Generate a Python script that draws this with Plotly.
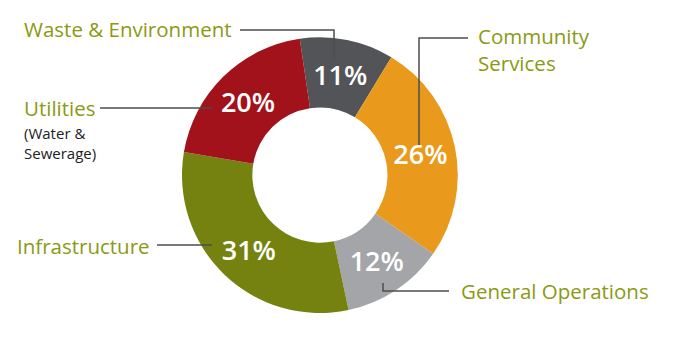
import plotly.graph_objects as go

# Budget share by service area (percent)
categories = ["Waste & Environment", "Community Services", "General Operations",
              "Infrastructure", "Utilities"]
shares = [11, 26, 12, 31, 20]
slice_colors = ["#535457", "#e99a1c", "#a4a5a9", "#75820f", "#a2121a"]

W, H = 700, 341
LABEL_GREEN = "#8a9a12"
LINE_GRAY = "#4d4d4d"


def px(x):
    return x / W


def py(y):
    return 1 - y / H


fig = go.Figure(go.Pie(
    labels=categories,
    values=shares,
    sort=False,
    direction="clockwise",
    rotation=-8.4,
    hole=0.49,
    marker=dict(colors=slice_colors, line=dict(width=0)),
    textinfo="percent",
    texttemplate="%{percent:.0%}",
    textposition="inside",
    insidetextorientation="horizontal",
    textfont=dict(family="Open Sans", size=27, color="white", weight=600),
    domain=dict(x=[0.26, 0.654], y=[0.082, 0.891]),
    showlegend=False,
    hoverinfo="label+percent",
))

# Outside category labels
labels = [
    ("Waste & Environment", 22, 29, 20.5, LABEL_GREEN),
    ("Community<br>Services", 476, 49.5, 20.5, LABEL_GREEN),
    ("Utilities", 22, 108, 20.5, LABEL_GREEN),
    ("(Water &<br>Sewerage)", 22, 143, 15, "#222222"),
    ("Infrastructure", 15, 246, 20.5, LABEL_GREEN),
    ("General Operations", 459, 291, 20.5, LABEL_GREEN),
]
for text, x, y, size, color in labels:
    fig.add_annotation(
        text=text, x=px(x), y=py(y), xref="paper", yref="paper",
        xanchor="left", yanchor="middle", align="left", showarrow=False,
        font=dict(family="Open Sans", size=size, color=color),
    )

# Leader lines connecting labels to slices
leaders = [
    [(240, 30), (334, 30), (334, 58)],
    [(419, 145), (419, 38), (468, 38)],
    [(100, 108), (212, 108)],
    [(157, 245), (212, 245)],
    [(383, 283), (383, 291), (449, 291)],
]
for pts in leaders:
    path = "M " + " L ".join(f"{px(x):.5f},{py(y):.5f}" for x, y in pts)
    fig.add_shape(type="path", path=path, xref="paper", yref="paper",
                  line=dict(color=LINE_GRAY, width=1.5), layer="above")

fig.update_layout(
    width=W, height=H,
    margin=dict(l=0, r=0, t=0, b=0),
    paper_bgcolor="white",
    plot_bgcolor="white",
    font=dict(family="Open Sans"),
)

fig.write_html("out.html")
